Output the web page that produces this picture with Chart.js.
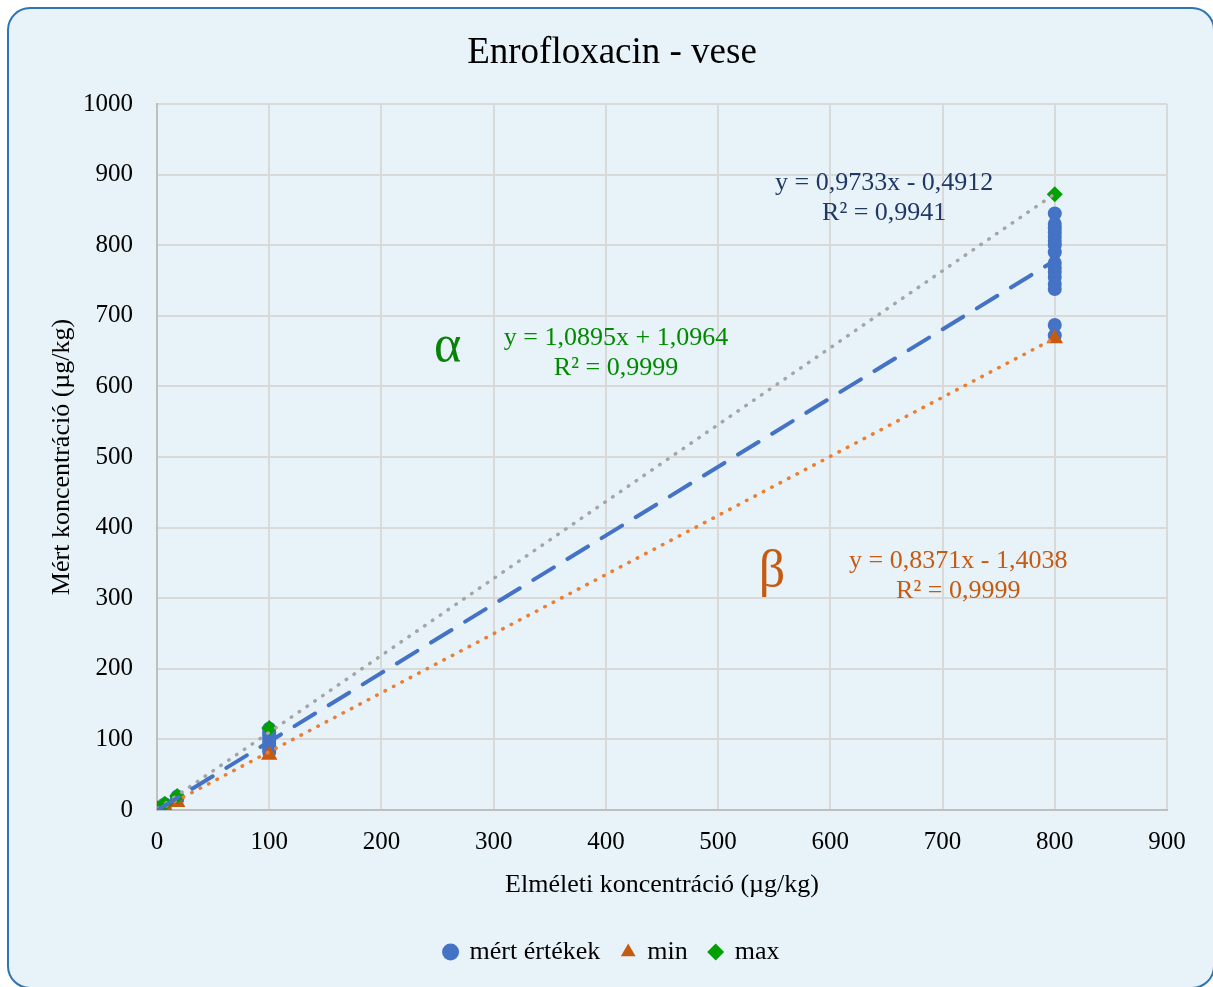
<!DOCTYPE html>
<html lang="hu">
<head>
<meta charset="utf-8">
<title>Enrofloxacin - vese</title>
<script src="https://cdn.jsdelivr.net/npm/chart.js@4.4.1/dist/chart.umd.min.js"></script>
<style>
    html, body { margin: 0; padding: 0; background: #ffffff; }
    body { width: 1213px; height: 987px; overflow: hidden; position: relative; }
    #frame {
        position: absolute; left: 7px; top: 7px; width: 1208px; height: 982px;
        box-sizing: border-box; border: 2px solid #2E75B6; border-radius: 23px;
        background: #E8F3F9;
    }
    #wrap { position: absolute; left: 0; top: 0; width: 1213px; height: 987px; }
</style>
</head>
<body>
<div id="frame"></div>
<div id="wrap"><canvas id="chart"></canvas></div>
<script>
// measured concentrations (x = theoretical level, y = measured)
const measuredX = [1, 1, 1, 7, 7, 7, 18, 18, 18,
    100, 100, 100, 100, 100, 100, 100, 100, 100,
    800, 800, 800, 800, 800, 800, 800, 800, 800, 800, 800, 800, 800, 800, 800, 800];
const measuredY = [1.5, 0.8, 2.2, 6.4, 7.5, 8.2, 15, 17, 19,
    115, 110, 106, 102, 98, 94, 90, 86, 82,
    845, 830, 824, 818, 812, 806, 800, 790, 775, 768, 762, 755, 745, 738, 687, 672];

const minX = [1, 7, 18, 100, 800];
const minY = [0, 5, 11, 78, 668];
const maxX = [1, 7, 18, 100, 800];
const maxY = [2.5, 9, 20, 116, 872];

// linear trendlines: measured, min, max
const trendSlope = [0.9733, 0.8371, 1.0895];
const trendIntercept = [-0.4912, -1.4038, 1.0964];
const trendR2 = [0.9941, 0.9999, 0.9999];
const trendRange = [1, 800];

const xTicks = [0, 100, 200, 300, 400, 500, 600, 700, 800, 900];
const yTicks = [0, 100, 200, 300, 400, 500, 600, 700, 800, 900, 1000];

const serif = "'Liberation Serif', 'Times New Roman', serif";

function toPoints(xs, ys) {
    return xs.map((x, i) => ({x: x, y: ys[i]}));
}

function trendPoints(i) {
    return trendRange.map(x => ({x: x, y: trendSlope[i] * x + trendIntercept[i]}));
}

function huNum(v) {
    return v.toFixed(4).replace('.', ',');
}

function equationText(i) {
    const sign = trendIntercept[i] < 0 ? '-' : '+';
    return 'y = ' + huNum(trendSlope[i]) + 'x ' + sign + ' ' + huNum(Math.abs(trendIntercept[i]));
}

// where each equation label sits, in data units
const labelSpots = [
    {trend: 0, x: 648, y: 888, color: '#203864'},
    {trend: 1, x: 714, y: 352, color: '#C55A11'},
    {trend: 2, x: 409, y: 668, color: '#008A00'}
];
const greekSpots = [
    {text: 'α', x: 259, y: 656, color: '#0A820A'},
    {text: 'β', x: 548, y: 337, color: '#C55A11'}
];

const labelsPlugin = {
    id: 'trendLabels',
    afterDatasetsDraw(chart) {
        const ctx = chart.ctx;
        const xs = chart.scales.x;
        const ys = chart.scales.y;
        ctx.save();
        ctx.textAlign = 'center';
        ctx.textBaseline = 'middle';
        ctx.font = '26px ' + serif;
        labelSpots.forEach(s => {
            const px = xs.getPixelForValue(s.x);
            const py = ys.getPixelForValue(s.y);
            ctx.fillStyle = s.color;
            ctx.fillText(equationText(s.trend), px, py);
            ctx.fillText('R² = ' + huNum(trendR2[s.trend]), px, py + 30);
        });
        ctx.font = '52px ' + serif;
        greekSpots.forEach(g => {
            ctx.fillStyle = g.color;
            ctx.fillText(g.text, xs.getPixelForValue(g.x), ys.getPixelForValue(g.y));
        });
        ctx.restore();
    }
};

const ctx = document.getElementById('chart').getContext('2d');
const chart = new Chart(ctx, {
    type: 'scatter',
    data: {
        datasets: [
            {
                label: 'mért értékek',
                data: toPoints(measuredX, measuredY),
                backgroundColor: '#4472C4',
                borderWidth: 0,
                pointStyle: 'circle',
                pointRadius: 7,
                order: 3
            },
            {
                label: 'min',
                data: toPoints(minX, minY),
                backgroundColor: '#C55A11',
                borderWidth: 0,
                pointStyle: 'triangle',
                pointRadius: 9.5,
                order: 2
            },
            {
                label: 'max',
                data: toPoints(maxX, maxY),
                backgroundColor: '#00A000',
                borderWidth: 0,
                pointStyle: 'rectRot',
                pointRadius: 8,
                order: 1
            },
            {
                label: 'trend mért',
                data: trendPoints(0),
                showLine: true,
                pointRadius: 0,
                borderColor: '#4472C4',
                borderWidth: 4,
                borderDash: [24, 16],
                borderCapStyle: 'round',
                order: 0
            },
            {
                label: 'trend min',
                data: trendPoints(1),
                showLine: true,
                pointRadius: 0,
                borderColor: '#ED7D31',
                borderWidth: 3.5,
                borderDash: [0.5, 9],
                borderCapStyle: 'round',
                order: 0
            },
            {
                label: 'trend max',
                data: trendPoints(2),
                showLine: true,
                pointRadius: 0,
                borderColor: '#A5A5A5',
                borderWidth: 3.5,
                borderDash: [0.5, 9],
                borderCapStyle: 'round',
                order: 0
            }
        ]
    },
    options: {
        responsive: true,
        maintainAspectRatio: false,
        animation: false,
        layout: {
            padding: {left: 57, right: 46, top: 0, bottom: 12}
        },
        scales: {
            x: {
                type: 'linear',
                min: 0,
                max: 900,
                afterBuildTicks: function(scale) {
                    scale.ticks = xTicks.map(v => ({value: v}));
                },
                afterFit: function(scale) {
                    scale.height = 107;
                },
                grid: {color: '#D9D9D9', lineWidth: 2, drawTicks: false},
                border: {color: '#BFBFBF', width: 2},
                ticks: {
                    padding: 17,
                    color: '#000',
                    font: {family: serif, size: 25},
                    callback: value => String(value)
                },
                title: {
                    display: true,
                    text: 'Elméleti koncentráció (µg/kg)',
                    color: '#000',
                    font: {family: serif, size: 26},
                    padding: {top: 0, bottom: 16}
                }
            },
            y: {
                type: 'linear',
                min: 0,
                max: 1000,
                afterBuildTicks: function(scale) {
                    scale.ticks = yTicks.map(v => ({value: v}));
                },
                afterFit: function(scale) {
                    scale.width = 100;
                },
                grid: {color: '#D9D9D9', lineWidth: 2, drawTicks: false},
                border: {color: '#BFBFBF', width: 2},
                ticks: {
                    padding: 24,
                    color: '#000',
                    font: {family: serif, size: 25},
                    callback: value => String(value)
                },
                title: {
                    display: true,
                    text: 'Mért koncentráció (µg/kg)',
                    color: '#000',
                    font: {family: serif, size: 26},
                    padding: {top: -10, bottom: 0}
                }
            }
        },
        plugins: {
            title: {
                display: true,
                text: 'Enrofloxacin - vese',
                color: '#000',
                font: {family: serif, size: 37, weight: 'normal'},
                padding: {top: 31, bottom: 28.6}
            },
            legend: {
                display: true,
                position: 'bottom',
                labels: {
                    usePointStyle: true,
                    boxWidth: 12,
                    boxHeight: 12,
                    padding: 22,
                    color: '#000',
                    font: {family: serif, size: 26},
                    filter: item => item.datasetIndex < 3,
                    sort: (a, b) => a.datasetIndex - b.datasetIndex
                }
            },
            tooltip: {enabled: false}
        }
    },
    plugins: [labelsPlugin]
});
</script>
</body>
</html>
